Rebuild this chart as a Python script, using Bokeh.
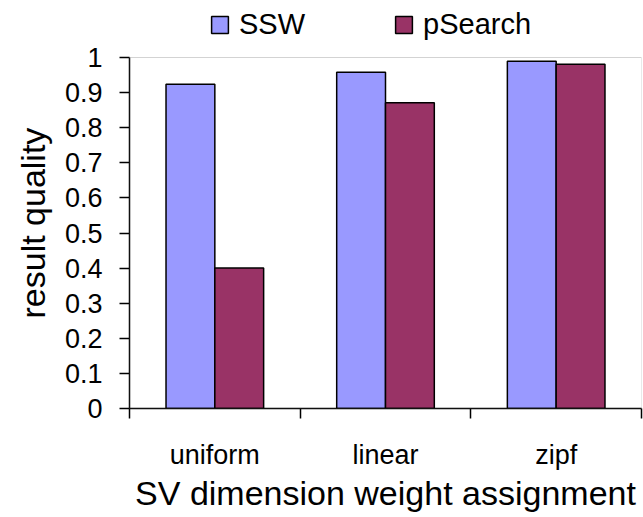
from bokeh.plotting import figure
from bokeh.models import (ColumnDataSource, Range1d, FixedTicker, Legend, LegendItem,
                          BoxAnnotation, Title)
from bokeh.transform import dodge
from bokeh.embed import file_html
from bokeh.resources import INLINE
import numpy as np

# Data
categories = ["uniform", "linear", "zipf"]
ssw = [0.924, 0.958, 0.989]
psearch = [0.40, 0.871, 0.981]
y_ticks = [0, 0.1, 0.2, 0.3, 0.4, 0.5, 0.6, 0.7, 0.8, 0.9, 1.0]
y_tick_labels = ["0", "0.1", "0.2", "0.3", "0.4", "0.5", "0.6", "0.7", "0.8", "0.9", "1"]

FONT = "Liberation Sans"
SSW_COLOR = "#9999FF"
PSEARCH_COLOR = "#993366"

W, H = 643, 517
PLOT_TOP, PLOT_BOTTOM = 57, 408   # pixel rows of the value range 1 and 0
FRAME_H = PLOT_BOTTOM             # frame reaches the top edge so the legend fits inside it

pos = (np.arange(len(categories)) + 0.5).tolist()
source = ColumnDataSource(data=dict(pos=pos, cat=categories, ssw=ssw, psearch=psearch))

y_max = 1.0 * FRAME_H / (PLOT_BOTTOM - PLOT_TOP)

p = figure(width=W, height=H, output_backend="svg", toolbar_location=None,
           x_range=Range1d(0, len(categories)), y_range=Range1d(0, y_max),
           min_border_left=129, min_border_right=2, min_border_top=0,
           min_border_bottom=H - PLOT_BOTTOM)

p.grid.visible = False
p.outline_line_color = None
p.background_fill_color = "white"
p.border_fill_color = "white"

# plot-area box (value range 0..1)
p.add_layout(BoxAnnotation(left=0, right=len(categories), bottom=0, top=1,
                           fill_alpha=0, line_color="#6e6e6e", line_width=1))

bw = 0.286
r1 = p.vbar(x=dodge("pos", -0.143), top="ssw", width=bw, source=source,
            fill_color=SSW_COLOR, line_color="black", line_width=1.5)
r2 = p.vbar(x=dodge("pos", 0.143), top="psearch", width=bw, source=source,
            fill_color=PSEARCH_COLOR, line_color="black", line_width=1.5)

# x axis: category names at the centres, tick marks at the group boundaries
xa = p.xaxis[0]
xa.ticker = FixedTicker(ticks=pos, minor_ticks=list(range(len(categories) + 1)))
xa.major_label_overrides = {v: c for v, c in zip(pos, categories)}
xa.major_tick_out = 0
xa.major_tick_in = 0
xa.minor_tick_out = 10
xa.minor_tick_in = 0
xa.minor_tick_line_color = "black"
xa.minor_tick_line_width = 1.5
xa.axis_line_color = "black"
xa.axis_line_width = 1.5
xa.major_label_text_font = FONT
xa.major_label_text_font_size = "27px"
xa.major_label_text_color = "black"
xa.major_label_standoff = 21
xa.axis_label = "SV dimension weight assignment"
xa.axis_label_text_font = FONT
xa.axis_label_text_font_size = "34px"
xa.axis_label_text_font_style = "normal"
xa.axis_label_text_color = "black"
xa.axis_label_standoff = 1

# y axis, drawn over the value range 0..1 only
ya = p.yaxis[0]
ya.bounds = (0, 1)
ya.ticker = FixedTicker(ticks=y_ticks, minor_ticks=[])
ya.major_label_overrides = {t: s for t, s in zip(y_ticks, y_tick_labels)}
ya.major_tick_out = 10
ya.major_tick_in = 0
ya.major_tick_line_width = 1.5
ya.major_tick_line_color = "black"
ya.axis_line_color = "black"
ya.axis_line_width = 1.5
ya.major_label_text_font = FONT
ya.major_label_text_font_size = "27px"
ya.major_label_text_color = "black"
ya.major_label_standoff = 17

# y axis title, placed alongside the 0..1 value range
p.add_layout(Title(text="result quality", align="left", offset=90,
                   text_font=FONT, text_font_size="34px", text_font_style="normal",
                   text_color="black", standoff=20), "left")

# series legend above the plot area
legend = Legend(items=[LegendItem(label="SSW", renderers=[r1]),
                       LegendItem(label="pSearch", renderers=[r2])],
                location=(80, 367), orientation="horizontal",
                glyph_width=21, glyph_height=21, label_height=21,
                label_standoff=9, spacing=88, padding=0, margin=0,
                border_line_color=None, background_fill_alpha=0,
                label_text_font=FONT, label_text_font_size="29px",
                label_text_color="black")
p.add_layout(legend, "center")

open("out.html", "w").write(file_html(p, INLINE))
